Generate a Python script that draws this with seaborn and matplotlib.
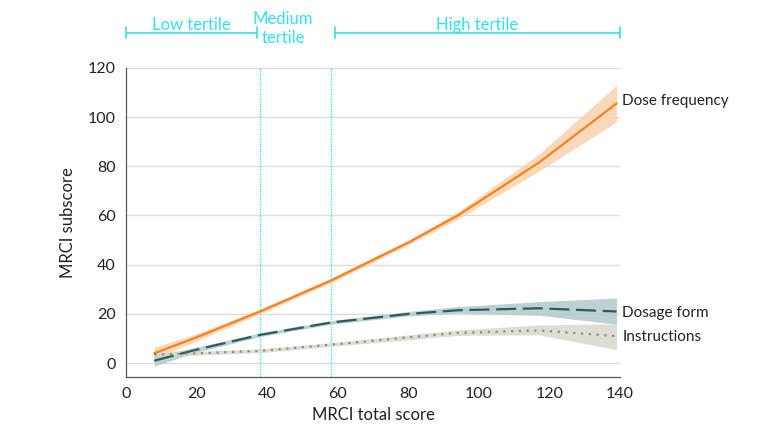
import matplotlib
matplotlib.use("Agg")
import matplotlib.pyplot as plt
import matplotlib.transforms as mtransforms
import seaborn as sns
import numpy as np
import pandas as pd

# MRCI total score knots
total_score = [8, 20, 38, 58, 80, 94, 117, 139]

dose_freq = [4.0, 10.5, 21.0, 33.5, 49.0, 60.0, 81.5, 105.5]
dose_freq_lo = [2.0, 9.0, 20.0, 32.5, 48.0, 58.5, 78.0, 98.0]
dose_freq_hi = [6.5, 12.0, 22.0, 34.5, 50.0, 61.5, 85.0, 113.0]

dosage_form = [1.0, 5.5, 11.5, 16.5, 20.0, 21.5, 22.3, 21.0]
dosage_form_lo = [-1.2, 4.5, 10.8, 15.8, 19.2, 20.3, 19.5, 15.8]
dosage_form_hi = [3.0, 6.5, 12.3, 17.3, 21.0, 23.0, 25.0, 26.5]

instructions = [3.5, 4.0, 5.0, 7.5, 10.5, 12.3, 13.3, 11.0]
instructions_lo = [2.5, 3.3, 4.3, 6.8, 9.5, 11.3, 11.5, 5.5]
instructions_hi = [5.0, 4.8, 5.8, 8.3, 11.5, 13.5, 15.5, 16.0]

series_names = ["Dose frequency", "Dosage form", "Instructions"]
series_colors = ["#F5821F", "#2B5C5C", "#8E8C7E"]
band_colors = ["#FAD3B0", "#B2C9CB", "#D8D7CF"]
label_y = [106.5, 20.3, 10.6]

tertile_cuts = [38, 58]
tertile_labels = ["Low tertile", "Medium\ntertile", "High tertile"]

sns.set_style("white")
plt.rcParams["font.family"] = ["Lato", "DejaVu Sans"]

rows = []
for name, vals, lo, hi in [
    ("Dose frequency", dose_freq, dose_freq_lo, dose_freq_hi),
    ("Dosage form", dosage_form, dosage_form_lo, dosage_form_hi),
    ("Instructions", instructions, instructions_lo, instructions_hi),
]:
    for x, v, l, h in zip(total_score, vals, lo, hi):
        rows.append({"total": x, "value": v, "lo": l, "hi": h, "series": name})
df = pd.DataFrame(rows)

fig = plt.figure(figsize=(7.8, 4.32), dpi=100)
ax = fig.add_axes([0.1615, 0.128, 0.6335, 0.715])

for name, band in zip(series_names, band_colors):
    sub = df[df.series == name]
    ax.fill_between(sub.total, sub.lo, sub.hi, color=band, alpha=0.85, lw=0, zorder=2)

sns.lineplot(data=df, x="total", y="value", hue="series", style="series",
             palette=dict(zip(series_names, series_colors)),
             dashes={"Dose frequency": "", "Dosage form": (9, 3), "Instructions": (1, 2.5)},
             linewidth=1.6, legend=False, ax=ax, zorder=3)

for name, c, ly in zip(series_names, series_colors, label_y):
    ax.text(140.6, ly, name, fontsize=11, color="#222222", va="center", ha="left", clip_on=False)

cyan = "#33E0EE"
for cut in tertile_cuts:
    ax.axvline(cut, color=cyan, lw=0.9, ls=(0, (1, 1)), zorder=1)

ax.set_xlim(0, 140)
ax.set_ylim(-5.5, 120)
ax.set_xticks(np.arange(0, 141, 20))
ax.set_yticks(np.arange(0, 121, 20))
ax.yaxis.grid(True, color="#DDDDDD", lw=1.0)
ax.set_axisbelow(True)
for s in ["top", "right"]:
    ax.spines[s].set_visible(False)
for s in ["left", "bottom"]:
    ax.spines[s].set_color("#555555")
    ax.spines[s].set_linewidth(0.9)
ax.tick_params(axis="both", direction="out", length=4, width=0.8, color="#555555",
               labelsize=11.5, labelcolor="#222222")
ax.set_xlabel("MRCI total score", fontsize=12, color="#222222")
ax.set_ylabel("MRCI subscore", fontsize=12, color="#222222", labelpad=8)

# tertile brackets above the plot
trans = mtransforms.blended_transform_factory(ax.transData, ax.transAxes)
by = 1.113
for x0, x1 in [(0, 37.2), (59.2, 140)]:
    ax.plot([x0, x1], [by, by], color=cyan, lw=1.2, transform=trans, clip_on=False)
    for xe in (x0, x1):
        ax.plot([xe, xe], [by - 0.018, by + 0.018], color=cyan, lw=1.2,
                transform=trans, clip_on=False)
ax.text(18.6, 1.14, tertile_labels[0], color=cyan, fontsize=12, ha="center",
        va="center", transform=trans)
ax.text(44.5, 1.128, tertile_labels[1], color=cyan, fontsize=12, ha="center",
        va="center", transform=trans, linespacing=1.25)
ax.text(99.6, 1.14, tertile_labels[2], color=cyan, fontsize=12, ha="center",
        va="center", transform=trans)

fig.savefig("out.png", dpi=100)
